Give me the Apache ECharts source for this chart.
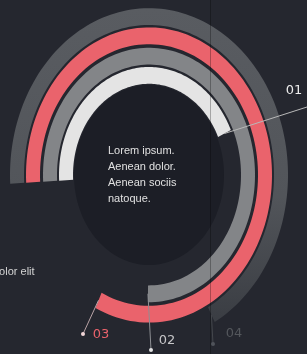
<!DOCTYPE html>
<html><head><meta charset="utf-8">
<style>html,body{margin:0;padding:0;background:#25272f;overflow:hidden}#c{width:307px;height:354px;}</style>
<script src="https://cdn.jsdelivr.net/npm/echarts@6/dist/echarts.min.js"></script>
</head><body><div id="c"></div>
<script>
// ---- data ----
const ringLabels = ['04', '03', '02', '01'];          // outer -> inner
const ringValues = [68, 83, 76, 44];                 // % of a full turn, clockwise from 9 o'clock
const ringColors = ['#56595e', '#ea636c', '#838588', '#e4e4e4'];
const labelColors = ['#54575c', '#ea636c', '#c6c6c8', '#ececec'];
const centerLines = ['Lorem ipsum.', 'Aenean dolor.', 'Aenean sociis', 'natoque.'];
const sideText = 'dolor elit';

// ---- layout ----
const RING_OUT = [139, 123, 106, 90];
const RING_W = 14;
const START_DEG = 183;
const DISC_R = 75;
const LEADER_END = [[213, 344], [83, 334], [151, 350], [307, 107]];
const LABEL_POS = [[234, 334], [101, 335], [167, 341], [294, 91]];
const LEADER_COL = ['#44474c', '#b9a3a6', '#8d8f93', '#b8b8b8'];
const DOT_COL = ['#50535a', '#f2d6d8', '#e2e2e2', null];

function arcBand(api, rOut, rIn, a0, a1) {
  const pts = [], n = 140;
  for (let i = 0; i <= n; i++) {
    const a = (a0 + (a1 - a0) * i / n) * Math.PI / 180;
    pts.push(api.coord([rOut * Math.cos(a), rOut * Math.sin(a)]));
  }
  for (let i = n; i >= 0; i--) {
    const a = (a0 + (a1 - a0) * i / n) * Math.PI / 180;
    pts.push(api.coord([rIn * Math.cos(a), rIn * Math.sin(a)]));
  }
  return pts;
}

const chart = echarts.init(document.getElementById('c'), null, {renderer: 'canvas'});
const ringData = ringValues.map((v, i) => [i, v]);

chart.setOption({
  backgroundColor: '#25272f',
  animation: false,
  grid: {left: 9, top: 7, width: 280, height: 336},
  xAxis: {type: 'value', min: -140, max: 140, show: false},
  yAxis: {type: 'value', min: -140, max: 140, show: false},
  graphic: [
    {type: 'text', left: 108, top: 143, z: 10,
      style: {text: centerLines.join('\n'), fill: '#e0e0e0', font: '11px "Liberation Sans", Arial, sans-serif', lineHeight: 16}},
    {type: 'text', left: -7, top: 266, z: 10,
      style: {text: sideText, fill: '#d4d4d4', font: '11px "Liberation Sans", Arial, sans-serif'}},
    {type: 'line', z: 20, shape: {x1: 210.5, y1: 0, x2: 210.5, y2: 354}, style: {stroke: 'rgba(0,0,0,0.28)', lineWidth: 1}}
  ],
  series: [
    {
      type: 'custom', name: 'disc', z: 1, data: [[0, DISC_R]],
      renderItem: function (params, api) {
        return {type: 'polygon', shape: {points: arcBand(api, api.value(1), 0, 0, 360)}, style: {fill: '#1c1e26'}};
      }
    },
    {
      type: 'custom', name: 'rings', z: 2, data: ringData,
      renderItem: function (params, api) {
        const i = api.value(0), v = api.value(1);
        const a1 = START_DEG - v * 3.6;
        let fill = ringColors[i];
        if (i === 0) {
          fill = new echarts.graphic.LinearGradient(0, 0, 0, 1, [
            {offset: 0, color: '#595c61'}, {offset: 0.6, color: '#52555a'}, {offset: 1, color: '#3a3d43'}]);
        }
        return {type: 'polygon', shape: {points: arcBand(api, RING_OUT[i], RING_OUT[i] - RING_W, START_DEG, a1)}, style: {fill: fill}};
      }
    },
    {
      type: 'custom', name: 'leaders', z: 3, data: ringData,
      renderItem: function (params, api) {
        const i = api.value(0), v = api.value(1);
        const a = (START_DEG - v * 3.6) * Math.PI / 180;
        const rm = RING_OUT[i] - RING_W / 2;
        const p = api.coord([rm * Math.cos(a), rm * Math.sin(a)]);
        const e = LEADER_END[i], t = LABEL_POS[i];
        const children = [
          {type: 'line', shape: {x1: p[0], y1: p[1], x2: e[0], y2: e[1]}, style: {stroke: LEADER_COL[i], lineWidth: 1}},
          {type: 'text', x: t[0], y: t[1], style: {text: ringLabels[i], fill: labelColors[i], font: '13px "DejaVu Sans", sans-serif', align: 'center', verticalAlign: 'middle'}}
        ];
        if (DOT_COL[i]) children.push({type: 'circle', shape: {cx: e[0], cy: e[1], r: 2}, style: {fill: DOT_COL[i]}});
        return {type: 'group', children: children};
      }
    }
  ]
});
</script></body></html>
